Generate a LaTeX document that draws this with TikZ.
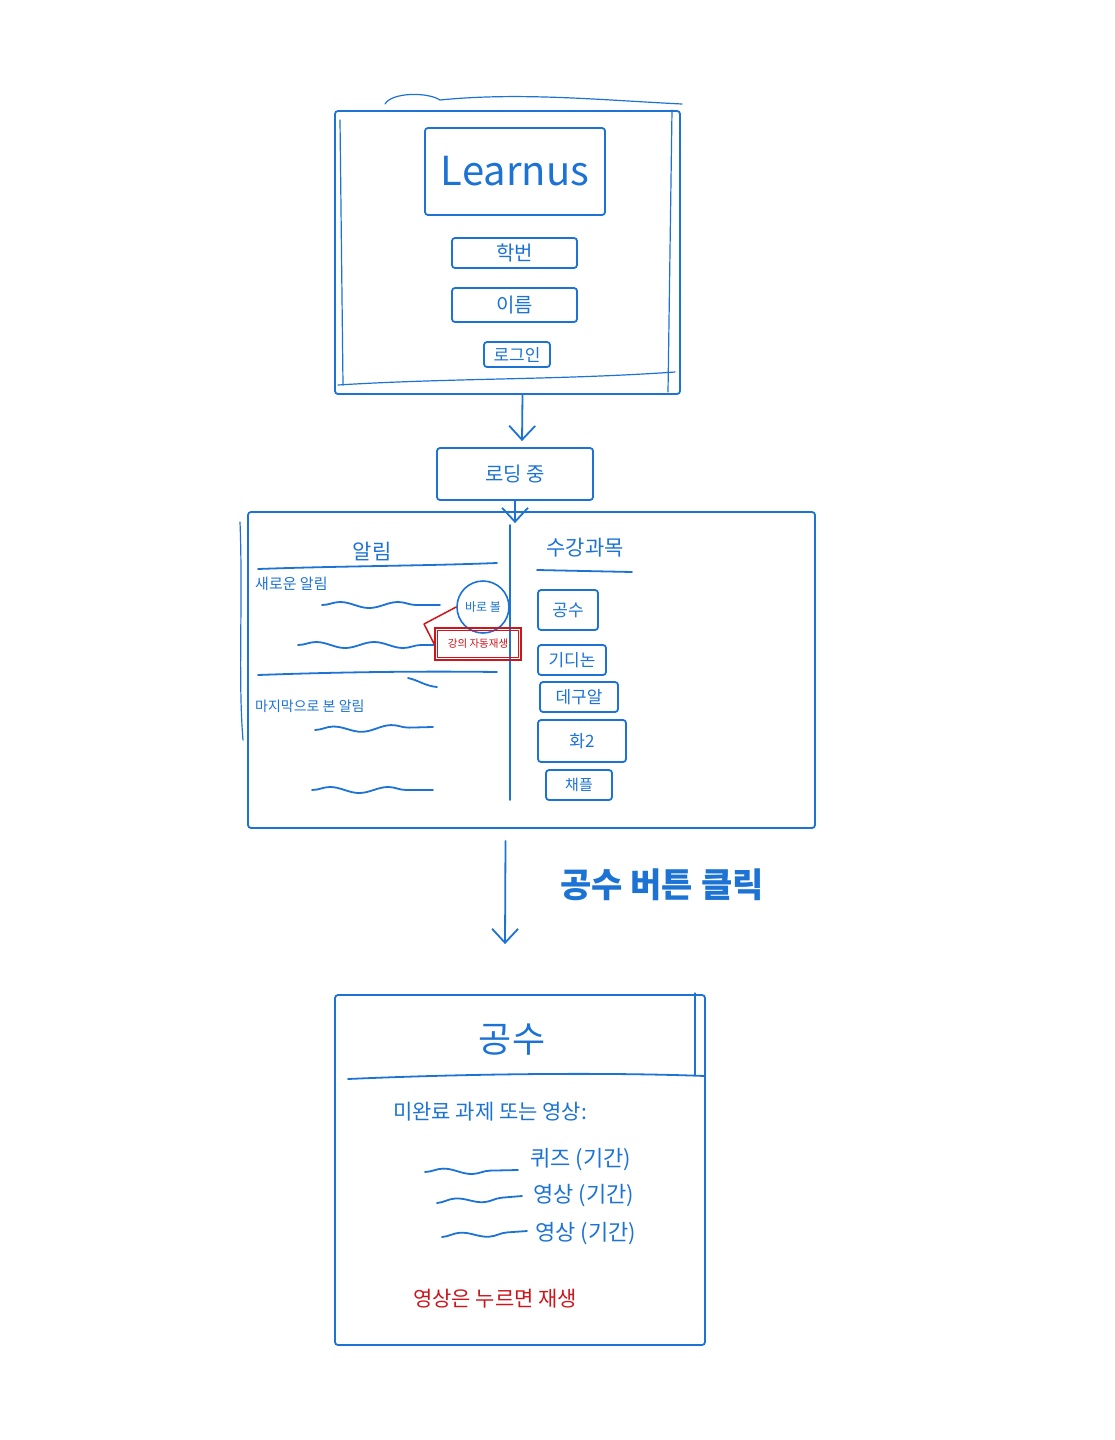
\documentclass[tikz,border=0pt]{standalone}
\usepackage{fontspec}
\setmainfont{Noto Sans CJK KR}
\usetikzlibrary{arrows.meta,decorations.pathmorphing,calc}
\definecolor{pen}{RGB}{28,115,212}
\definecolor{redpen}{RGB}{205,22,28}
\newcommand{\fs}[1]{\fontsize{#1}{#1}\selectfont}
\begin{document}
\begin{tikzpicture}[x=1pt,y=-1pt,
  box/.style={draw=pen, line width=1.8pt, rounded corners=3pt, inner sep=0pt, text=pen},
  rbox/.style={draw=redpen, line width=1.6pt, inner sep=0pt, text=redpen},
  lbl/.style={text=pen, inner sep=0pt},
  ink/.style={draw=pen, line width=1.8pt, line cap=round, line join=round},
  redink/.style={draw=redpen, line width=1.5pt, line cap=round, line join=round},
  wave/.style={ink, decorate, decoration={snake, amplitude=3pt, segment length=58pt}},
  arr/.style={ink, -{Straight Barb[length=14pt,width=26pt,line width=1.8pt]}}
]
\useasboundingbox[fill=white] (0,0) rectangle (1115,1440);

% ---------- login screen ----------
\node[box, minimum width=345, minimum height=283] (login) at (507.5,252.5) {};
\draw[ink, line width=1.2pt] (340,120) -- (343,385);
\draw[ink, line width=1.2pt] (672,110) -- (668,392);
\draw[ink, line width=1.2pt] (338,385) .. controls (450,378) and (560,380) .. (675,372);
\draw[ink, line width=1.2pt] (385,104) .. controls (392,92) and (428,92) .. (440,100)
      .. controls (520,92) and (600,100) .. (682,104);
\node[box, minimum width=180, minimum height=87, font=\fs{40}] (logo) at (515,171.5) {Learnus};
\node[box, minimum width=125, minimum height=30, font=\fs{20}] (hakbeon) at (514.5,253) {학번};
\node[box, minimum width=125, minimum height=34, font=\fs{20}] (ireum) at (514.5,305) {이름};
\node[box, minimum width=66, minimum height=25, font=\fs{17}] (loginbtn) at (517,354.5) {로그인};

% ---------- loading ----------
\node[box, minimum width=156, minimum height=52, font=\fs{20}] (loading) at (515,474) {로딩 중};
\draw[arr] ([xshift=15pt]login.south) -- ([xshift=7pt,yshift=6pt]loading.north);

% ---------- main screen ----------
\node[box, minimum width=567, minimum height=316] (main) at (531.5,670) {};
\draw[ink, line width=1.2pt] (240,522) .. controls (243,600) and (238,680) .. (243,740);
\draw[arr] (loading.south) -- ([yshift=-12pt]loading.south |- main.north);
\draw[ink] (510,525) -- (510,800);

% notifications panel
\node[lbl, font=\fs{21}] (alim) at (372,552) {알림};
\draw[ink] (258,569) .. controls (340,566) and (420,566) .. (497,563);
\node[lbl, font=\fs{15}, anchor=west] (newalim) at (255,584) {새로운 알림};
\draw[wave] (322,605) -- (440,605);
\draw[wave] (298,645) -- (435,645);
\node[draw=pen, line width=1.6pt, circle, minimum size=52, inner sep=0pt, text=pen, font=\fs{12}] (seen) at (483,607) {바로 볼};
\node[rbox, minimum width=86, minimum height=32, font=\fs{10.5}] (autoplay) at (478,644) {강의 자동재생};
\draw[redink, line width=1pt] ([shift={(3pt,3pt)}]autoplay.south west) rectangle ([shift={(-3pt,-3pt)}]autoplay.north east);
\draw[redink] (seen.west) -- (424,624) -- (autoplay.west);
\draw[ink] (258,675) .. controls (340,672) and (420,671) .. (497,672);
\draw[ink] (408,678) .. controls (418,680) and (425,686) .. (437,687);
\node[lbl, font=\fs{14}, anchor=west] (lastalim) at (255,706) {마지막으로 본 알림};
\draw[wave] (315,730) -- (433,727);
\draw[wave] (312,790) -- (433,790);

% courses panel
\node[lbl, font=\fs{21}] (courses) at (585,548) {수강과목};
\draw[ink] (537,570) -- (632,572);
\node[box, minimum width=60, minimum height=40, font=\fs{17}] (c1) at (568,610) {공수};
\node[box, minimum width=68, minimum height=30, font=\fs{17}] (c2) at (572,660) {기디논};
\node[box, minimum width=78, minimum height=30, font=\fs{17}] (c3) at (579,697) {데구알};
\node[box, minimum width=88, minimum height=42, font=\fs{17}] (c4) at (582,741) {화2};
\node[box, minimum width=66, minimum height=30, font=\fs{15}] (c5) at (579,785) {채플};

% ---------- transition ----------
\node[box, minimum width=370, minimum height=350] (course) at (520,1170) {};
\draw[arr] ([shift={(-26pt,-12pt)}]main.south) -- ([shift={(-15pt,50pt)}]course.north);
\node[lbl, font=\fs{34}\bfseries] (click) at (662,885) {공수 버튼 클릭};

% ---------- course page ----------
\draw[ink, line width=1.2pt] (695,993) -- (695,1075);
\node[lbl, font=\fs{36}] (ctitle) at (512,1040) {공수};
\draw[ink] (348,1079) .. controls (460,1074) and (600,1072) .. (705,1076);
\node[lbl, font=\fs{21}] (todo) at (490,1112) {미완료 과제 또는 영상:};
\draw[wave] (425,1172) -- (518,1170);
\node[lbl, font=\fs{22}, anchor=west] (i1) at (530,1160) {퀴즈 (기간)};
\draw[wave] (437,1203) -- (522,1196);
\node[lbl, font=\fs{22}, anchor=west] (i2) at (533,1196) {영상 (기간)};
\draw[wave] (442,1237) -- (527,1231);
\node[lbl, font=\fs{22}, anchor=west] (i3) at (535,1234) {영상 (기간)};
\node[lbl, text=redpen, font=\fs{21}] (play) at (495,1299) {영상은 누르면 재생};
\end{tikzpicture}
\end{document}
